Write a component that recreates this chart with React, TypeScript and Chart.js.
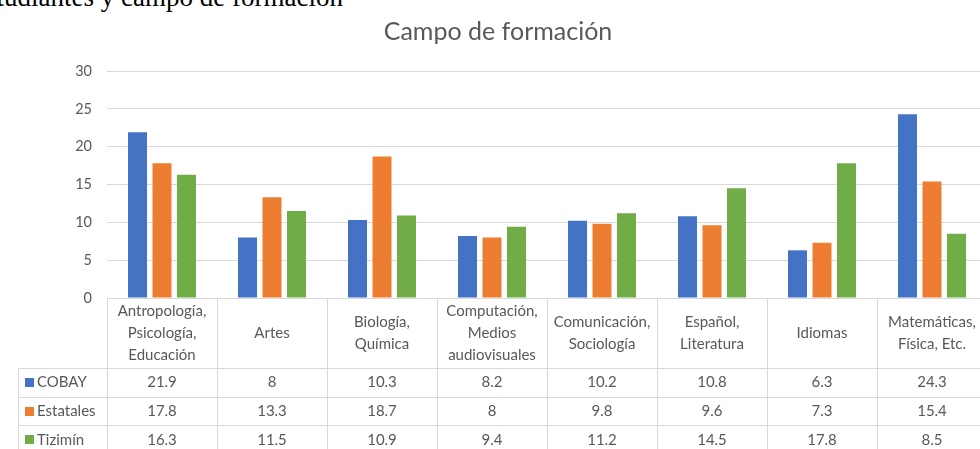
import React, { useEffect, useRef } from "react";
import { Chart, registerables } from "chart.js";

Chart.register(...registerables);

const chartTitle = "Campo de formación";
const docCaption = "Estudiantes y campo de formación";
const categories: string[][] = [
  ["Antropología,", "Psicología,", "Educación"],
  ["Artes"],
  ["Biología,", "Química"],
  ["Computación,", "Medios", "audiovisuales"],
  ["Comunicación,", "Sociología"],
  ["Español,", "Literatura"],
  ["Idiomas"],
  ["Matemáticas,", "Física, Etc."],
];
const seriesNames = ["COBAY", "Estatales", "Tizimín"];
const cobay = [21.9, 8, 10.3, 8.2, 10.2, 10.8, 6.3, 24.3];
const estatales = [17.8, 13.3, 18.7, 8, 9.8, 9.6, 7.3, 15.4];
const tizimin = [16.3, 11.5, 10.9, 9.4, 11.2, 14.5, 17.8, 8.5];
const yTicks = [0, 5, 10, 15, 20, 25, 30];
const seriesColors = ["#4472C4", "#ED7D31", "#70AD47"];

const FONT = "Lato, 'Noto Sans', sans-serif";
const TEXT = "#595959";
const LINE = "#d9d9d9";

const seriesValues = [cobay, estatales, tizimin];

const titlePlugin = {
  id: "excelTitle",
  afterDraw(chart: any) {
    const ctx = chart.ctx;
    ctx.save();
    ctx.font = `25px ${FONT}`;
    ctx.fillStyle = TEXT;
    ctx.textAlign = "center";
    ctx.textBaseline = "alphabetic";
    ctx.fillText(chartTitle, chart.width / 2, 40);
    ctx.restore();
  },
};

const dataTablePlugin = {
  id: "dataTable",
  afterDraw(chart: any) {
    const ctx = chart.ctx;
    const xs = chart.scales.x;
    const area = chart.chartArea;
    const n = categories.length;
    const step = xs.getPixelForValue(1) - xs.getPixelForValue(0);
    const left = xs.getPixelForValue(0) - step / 2;
    const right = left + step * n;
    const top = area.bottom;
    const headerH = 70;
    const rowH = 28.7;
    const keyLeft = 18;
    const bottom = chart.height + 20;
    const px = (v: number) => Math.round(v) + 0.5;
    const line = (x1: number, y1: number, x2: number, y2: number) => {
      ctx.beginPath();
      ctx.moveTo(x1, y1);
      ctx.lineTo(x2, y2);
      ctx.stroke();
    };
    ctx.save();
    ctx.strokeStyle = LINE;
    ctx.lineWidth = 1;
    line(left, px(top), right, px(top));
    for (let r = 0; r <= seriesNames.length; r++) {
      const y = px(top + headerH + r * rowH);
      line(keyLeft, y, right, y);
    }
    for (let i = 0; i <= n; i++) {
      const bx = px(left + i * step);
      line(bx, top, bx, bottom);
    }
    line(px(keyLeft), top + headerH, px(keyLeft), bottom);

    ctx.fillStyle = TEXT;
    ctx.font = `15px ${FONT}`;
    ctx.textAlign = "center";
    ctx.textBaseline = "middle";
    const lh = 22;
    categories.forEach((lines, i) => {
      const cx = xs.getPixelForValue(i);
      const cy = top + headerH / 2;
      const start = cy - ((lines.length - 1) * lh) / 2;
      lines.forEach((t, k) => ctx.fillText(t, cx, start + k * lh));
    });
    seriesValues.forEach((vals, r) => {
      const cy = top + headerH + (r + 0.5) * rowH;
      vals.forEach((v, i) => {
        ctx.fillText(String(v), xs.getPixelForValue(i), cy);
      });
    });
    ctx.textAlign = "left";
    seriesNames.forEach((name, r) => {
      const cy = top + headerH + (r + 0.5) * rowH;
      ctx.fillStyle = seriesColors[r];
      ctx.fillRect(25, Math.round(cy - 4.5), 9, 9);
      ctx.fillStyle = TEXT;
      ctx.fillText(name, 37, cy);
    });
    ctx.restore();
  },
};

export default function App() {
  const ref = useRef<HTMLCanvasElement | null>(null);
  useEffect(() => {
    if (!ref.current) return;
    const chart = new Chart(ref.current, {
      type: "bar",
      data: {
        labels: categories,
        datasets: seriesNames.map((name, i) => ({
          label: name,
          data: seriesValues[i],
          backgroundColor: seriesColors[i],
          borderWidth: 0,
          categoryPercentage: 0.668,
          barPercentage: 0.776,
        })),
      },
      options: {
        responsive: false,
        animation: false,
        layout: { padding: { left: 0, right: 9, top: 71, bottom: 151 } },
        plugins: {
          legend: { display: false },
          title: { display: false },
          tooltip: { enabled: false },
        },
        scales: {
          x: {
            display: false,
          },
          y: {
            min: 0,
            max: 30,
            afterBuildTicks: (scale: any) => {
              scale.ticks = yTicks.map((v) => ({ value: v }));
            },
            afterFit: (scale: any) => {
              scale.width = 107;
            },
            border: { display: false },
            grid: { color: LINE, lineWidth: 1, drawTicks: false },
            ticks: {
              padding: 15,
              color: TEXT,
              font: { family: FONT, size: 14.5 },
            },
          },
        },
      },
      plugins: [titlePlugin, dataTablePlugin],
    });
    return () => chart.destroy();
  }, []);

  return (
    <div
      style={{
        position: "fixed",
        left: 0,
        top: 0,
        width: 980,
        height: 449,
        overflow: "hidden",
        background: "#fff",
      }}
    >
      <span
        style={{
          position: "absolute",
          right: 637,
          top: -16,
          fontFamily: "'Liberation Serif', 'DejaVu Serif', serif",
          fontSize: 27,
          lineHeight: "27px",
          color: "#000",
          whiteSpace: "nowrap",
        }}
      >
        {docCaption}
      </span>
      <canvas
        ref={ref}
        width={996}
        height={449}
        style={{ position: "absolute", left: 0, top: 0, width: 996, height: 449 }}
      />
    </div>
  );
}
